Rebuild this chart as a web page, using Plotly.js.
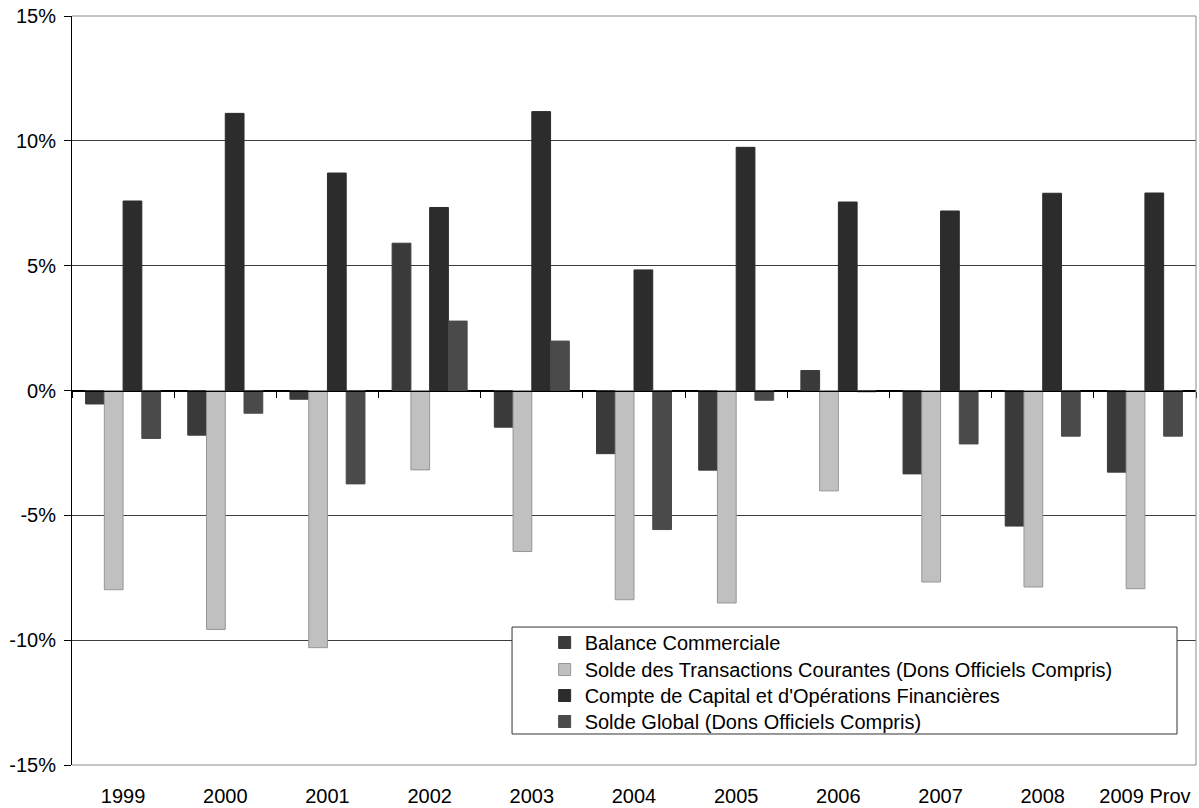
<!DOCTYPE html>
<html>
<head>
<meta charset="utf-8">
<script src="https://cdn.plot.ly/plotly-3.0.1.min.js"></script>
<style>
  html, body { margin: 0; padding: 0; background: #fff; }
  #chart { width: 1199px; height: 808px; }
</style>
</head>
<body>
<div id="chart"></div>
<script>
// Balance des paiements, en % du PIB
const years = ['1999', '2000', '2001', '2002', '2003', '2004', '2005', '2006', '2007', '2008', '2009 Prov'];
const balanceCommerciale = [-0.54, -1.79, -0.35, 5.9, -1.47, -2.53, -3.19, 0.8, -3.34, -5.43, -3.27];
const soldeTransactions = [-7.98, -9.57, -10.3, -3.18, -6.45, -8.38, -8.51, -4.02, -7.67, -7.87, -7.94];
const compteCapital = [7.59, 11.10, 8.71, 7.33, 11.17, 4.83, 9.74, 7.55, 7.19, 7.90, 7.91];
const soldeGlobal = [-1.92, -0.91, -3.74, 2.78, 1.98, -5.57, -0.39, -0.05, -2.14, -1.83, -1.83];

const seriesNames = [
  'Balance Commerciale',
  'Solde des Transactions Courantes (Dons Officiels Compris)',
  "Compte de Capital et d'Opérations Financières",
  'Solde Global (Dons Officiels Compris)'
];
const yTicks = [-15, -10, -5, 0, 5, 10, 15];

const FONT = '"Liberation Sans", Arial, sans-serif';

// one legend per series so the rows keep a tight, even spacing
const legendIds = ['legend', 'legend2', 'legend3', 'legend4'];
const legendTops = [0.1896, 0.1535, 0.1188, 0.0841];

function barTrace(i, values, fill, edge) {
  return {
    type: 'bar', name: seriesNames[i], x: years, y: values,
    legend: legendIds[i],
    marker: { color: fill, line: { color: edge, width: 1 } },
    hoverinfo: 'skip'
  };
}

const traces = [
  barTrace(0, balanceCommerciale, '#3a3a3a', '#3a3a3a'),
  barTrace(1, soldeTransactions, '#c0c0c0', '#969696'),
  barTrace(2, compteCapital, '#2c2c2c', '#2c2c2c'),
  barTrace(3, soldeGlobal, '#4a4a4a', '#4a4a4a'),
  // carries the category axis drawn along the zero line
  { type: 'scatter', mode: 'none', x: years, y: years.map(() => null),
    xaxis: 'x2', showlegend: false, hoverinfo: 'skip' }
];

const layout = {
  width: 1199, height: 808,
  margin: { l: 72, r: 3, t: 16, b: 43 },
  paper_bgcolor: '#fff', plot_bgcolor: '#fff',
  font: { family: FONT, size: 20, color: '#000' },
  barmode: 'group', bargap: 0.266, bargroupgap: 0,
  showlegend: true,
  xaxis: {
    type: 'category', categoryorder: 'array', categoryarray: years,
    range: [-0.5, years.length - 0.5],
    showline: false, showgrid: false, zeroline: false, ticks: '',
    ticklabelstandoff: 17,
    tickfont: { family: FONT, size: 20, color: '#000' }
  },
  xaxis2: {
    type: 'category', categoryorder: 'array', categoryarray: years,
    range: [-0.5, years.length - 0.5],
    overlaying: 'x', anchor: 'free', position: 0.5,
    showline: true, linecolor: '#000', linewidth: 1,
    ticks: 'outside', tickson: 'boundaries', ticklen: 6, tickcolor: '#000', tickwidth: 1,
    showticklabels: false, showgrid: false, zeroline: false
  },
  yaxis: {
    range: [-15, 15], tickvals: yTicks, ticktext: yTicks.map(v => v + '%'),
    showline: true, linecolor: '#000', linewidth: 1,
    ticks: 'outside', ticklen: 7, tickcolor: '#000',
    ticklabelstandoff: 4,
    showgrid: true, gridcolor: '#3c3c3c', gridwidth: 1,
    zeroline: true, zerolinecolor: '#000', zerolinewidth: 1,
    tickfont: { family: FONT, size: 20, color: '#000' }
  },
  shapes: [
    // plot area frame (top, right, bottom)
    { type: 'line', xref: 'paper', yref: 'paper', x0: 0, x1: 1, y0: 1, y1: 1, line: { color: '#8a8a8a', width: 1 }, layer: 'above' },
    { type: 'line', xref: 'paper', yref: 'paper', x0: 1, x1: 1, y0: 0, y1: 1, line: { color: '#8a8a8a', width: 1 }, layer: 'above' },
    { type: 'line', xref: 'paper', yref: 'paper', x0: 0, x1: 1, y0: 0, y1: 0, line: { color: '#8a8a8a', width: 1 }, layer: 'above' },
    // legend box
    { type: 'rect', xref: 'paper', yref: 'paper', x0: 0.3915, x1: 0.9831, y0: 0.0414, y1: 0.1842,
      fillcolor: '#fff', line: { color: '#333', width: 1 }, layer: 'above' }
  ]
};

legendIds.forEach((id, i) => {
  layout[id] = {
    x: 0.4205, y: legendTops[i], xanchor: 'left', yanchor: 'top',
    bgcolor: 'rgba(0,0,0,0)', borderwidth: 0,
    font: { family: FONT, size: 20, color: '#000' },
    itemclick: false, itemdoubleclick: false
  };
});

Plotly.newPlot('chart', traces, layout, { displayModeBar: false, staticPlot: true });
</script>
</body>
</html>
